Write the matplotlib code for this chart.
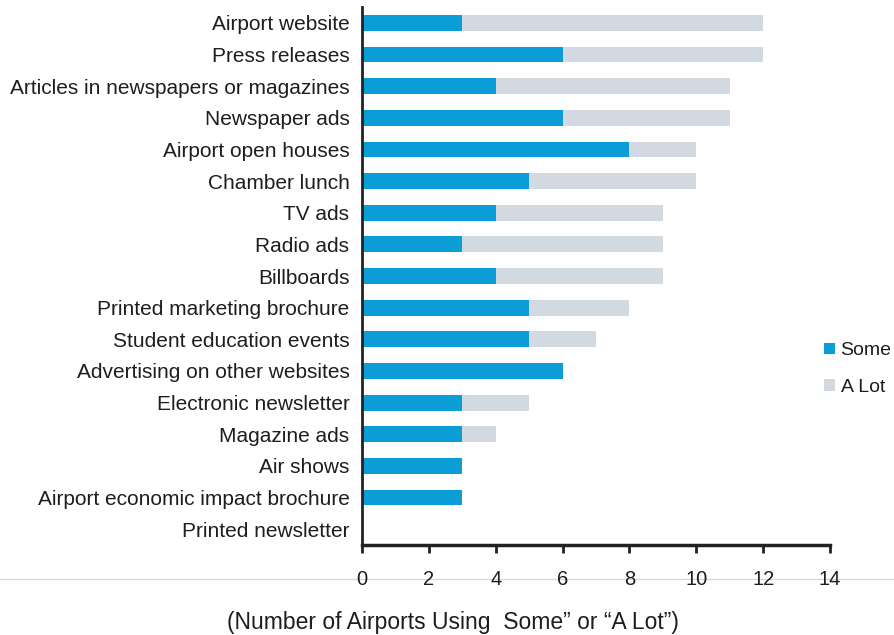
import matplotlib
matplotlib.use("Agg")
import matplotlib.pyplot as plt
from matplotlib.lines import Line2D

plt.rcParams['font.family'] = ['Liberation Sans', 'DejaVu Sans']

categories = [
    "Airport website", "Press releases", "Articles in newspapers or magazines",
    "Newspaper ads", "Airport open houses", "Chamber lunch", "TV ads",
    "Radio ads", "Billboards", "Printed marketing brochure",
    "Student education events", "Advertising on other websites",
    "Electronic newsletter", "Magazine ads", "Air shows",
    "Airport economic impact brochure", "Printed newsletter",
]
some = [3, 6, 4, 6, 8, 5, 4, 3, 4, 5, 5, 6, 3, 3, 3, 3, 0]
a_lot = [9, 6, 7, 5, 2, 5, 5, 6, 5, 3, 2, 0, 2, 1, 0, 0, 0]
xticks = [0, 2, 4, 6, 8, 10, 12, 14]
series_names = ["Some", "A Lot"]
xlabel = "(Number of Airports Using  Some\u201d or \u201cA Lot\u201d)"

BLUE = "#0a9dd6"
GRAY = "#d3d9e1"
TXT = "#1e1e1e"

fig = plt.figure(figsize=(8.95, 6.35), dpi=100)
ax = fig.add_axes([362/895, 1-545/635, (830-362)/895, (545-7)/635])

y = list(range(len(categories)))
ax.barh(y, some, height=0.5, color=BLUE, label=series_names[0])
ax.barh(y, a_lot, left=some, height=0.5, color=GRAY, label=series_names[1])

ax.set_ylim(len(categories) - 0.5, -0.5)
ax.set_xlim(0, 14)
ax.set_yticks(y)
ax.set_yticklabels(categories, fontsize=15, color=TXT)
ax.set_xticks(xticks)
ax.set_xticklabels([str(t) for t in xticks], fontsize=14.5, color=TXT)
ax.tick_params(axis='y', length=0, pad=9)
ax.tick_params(axis='x', direction='out', length=6, width=2, color='#222222', pad=12)
for s in ['top', 'right']:
    ax.spines[s].set_visible(False)
ax.spines['left'].set_linewidth(2)
ax.spines['bottom'].set_linewidth(2.5)
ax.spines['left'].set_color('#222222')
ax.spines['bottom'].set_color('#222222')

# faint horizontal line across figure (from reference scan)
fig.add_artist(Line2D([0, 1], [1-579/635, 1-579/635], transform=fig.transFigure,
                      color='#bfe3df', linewidth=1, zorder=0))

fig.text(453/895, 1-622/635, xlabel, ha='center', va='center', fontsize=16.5, color=TXT)

leg = ax.legend(loc='center left', bbox_to_anchor=(824/895, 1-369/635),
                bbox_transform=fig.transFigure, frameon=False, fontsize=14,
                handlelength=0.55, handleheight=0.55, handletextpad=0.3,
                labelspacing=1.0, borderaxespad=0, borderpad=0)
for t in leg.get_texts():
    t.set_color(TXT)

fig.savefig("out.png", dpi=100)
